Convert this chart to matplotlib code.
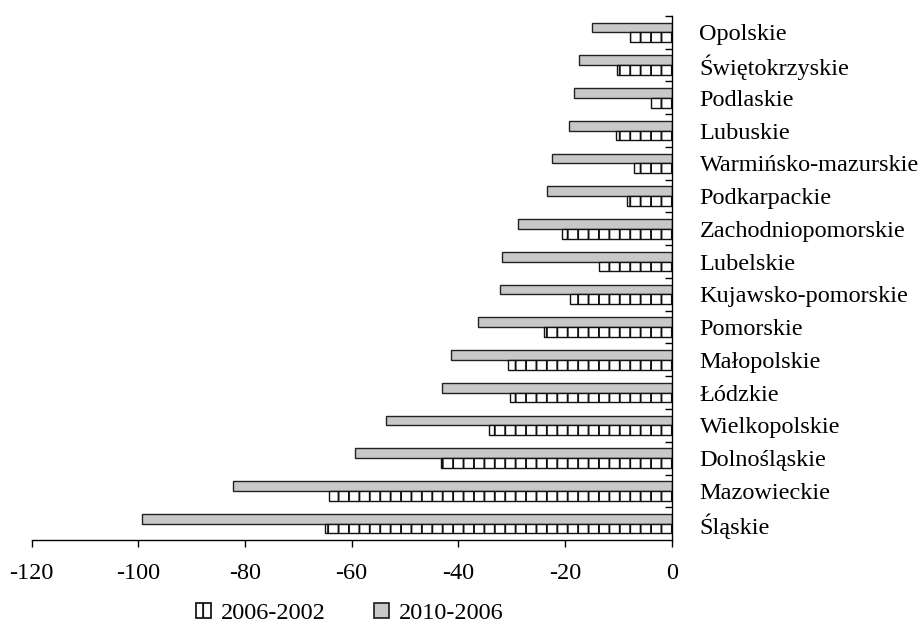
import numpy as np
import matplotlib.pyplot as plt
from matplotlib.patches import Patch

plt.rcParams['font.family'] = ['Liberation Serif', 'DejaVu Serif']
plt.rcParams['hatch.linewidth'] = 1.1

regions = ["Opolskie", "Świętokrzyskie", "Podlaskie", "Lubuskie",
           "Warmińsko-mazurskie", "Podkarpackie", "Zachodniopomorskie",
           "Lubelskie", "Kujawsko-pomorskie", "Pomorskie", "Małopolskie",
           "Łódzkie", "Wielkopolskie", "Dolnośląskie", "Mazowieckie", "Śląskie"]
change_2010_2006 = [-15.0, -17.3, -18.4, -19.2, -22.5, -23.3, -28.9, -31.8,
                    -32.2, -36.3, -41.4, -43.1, -53.6, -59.3, -82.2, -99.4]
change_2006_2002 = [-7.9, -10.2, -3.8, -10.5, -7.1, -8.3, -20.6, -13.6,
                    -19.0, -23.9, -30.7, -30.4, -34.2, -43.2, -64.2, -65.0]
xticks = [-120, -100, -80, -60, -40, -20, 0]

# dpi 125 so that the '||' hatch spacing matches the original (~10 px)
fig = plt.figure(figsize=(7.344, 4.992), dpi=125)
ax = fig.add_axes([0.0345, 0.1346, 0.6972, 0.8398])

fs = 14
lw = 0.8
y = np.arange(len(regions))
h = 0.3
ax.barh(y - h / 2, change_2010_2006, height=h, color='#c8c8c8',
        edgecolor='#222222', linewidth=lw, label='2010-2006')
ax.barh(y + h / 2, change_2006_2002, height=h, color='white',
        edgecolor='#111111', hatch='||', linewidth=lw, label='2006-2002')

ax.set_xlim(-120, 0)
ax.set_ylim(len(regions) - 0.5, -0.5)
ax.set_xticks(xticks)
ax.set_xticklabels([str(v) for v in xticks])

for s in ['top', 'left']:
    ax.spines[s].set_visible(False)
ax.spines['right'].set_position(('data', 0))
ax.spines['right'].set_linewidth(lw)
ax.spines['bottom'].set_linewidth(lw)

ax.tick_params(axis='x', direction='out', length=4, width=lw,
               labelsize=fs, pad=9.5)
ax.yaxis.tick_right()
ax.set_yticks(np.arange(-0.5, len(regions) - 1, 1.0))
ax.set_yticks(y, minor=True)
ax.set_yticklabels(regions, minor=True)
ax.tick_params(axis='y', which='major', direction='in', length=4, width=lw,
               labelright=False, labelleft=False, left=False, right=True)
ax.tick_params(axis='y', which='minor', length=0, labelsize=fs, pad=16,
               left=False, right=True, labelright=True, labelleft=False)

handles = [Patch(facecolor='white', edgecolor='#111111', hatch='||'),
           Patch(facecolor='#c8c8c8', edgecolor='#222222')]
fig.legend(handles, ['2006-2002', '2010-2006'], loc='center',
           bbox_to_anchor=(0.381, 0.017), ncol=2, frameon=False, fontsize=fs,
           handlelength=0.6, handleheight=0.6, handletextpad=0.4,
           columnspacing=2.0)

fig.savefig('out.png', dpi=125)
